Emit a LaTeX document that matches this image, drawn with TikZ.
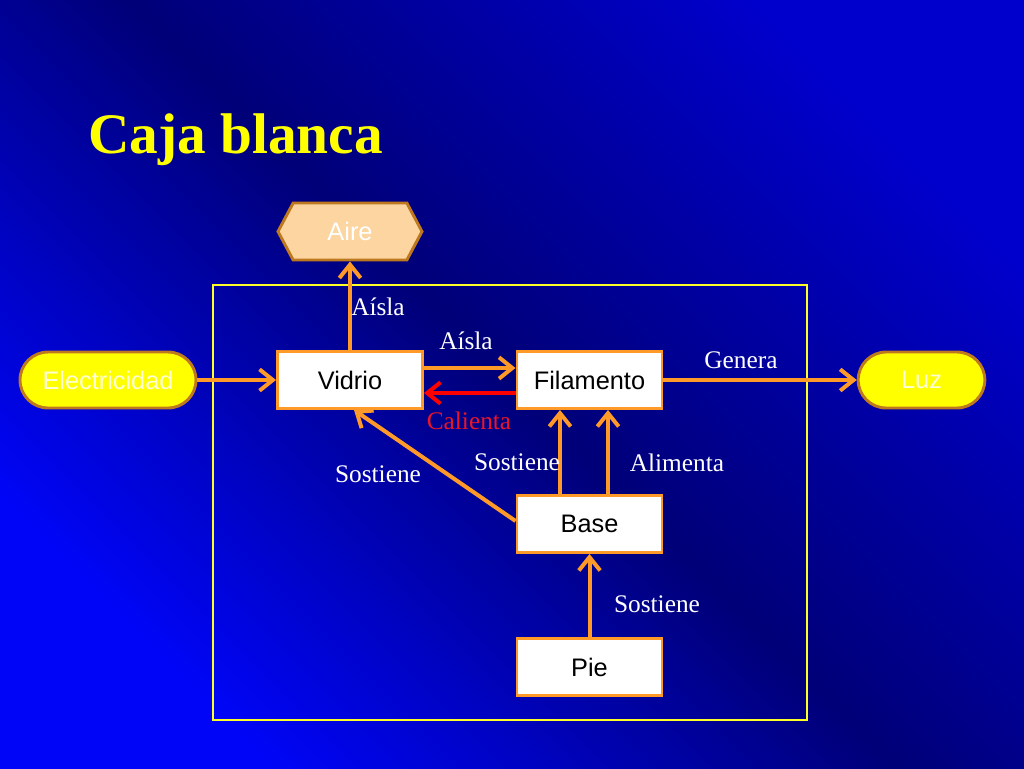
\documentclass[tikz,border=0pt]{standalone}
\usepackage{fontspec}
\setmainfont{Liberation Serif}
\newfontfamily\arialf{Liberation Sans}
\usetikzlibrary{arrows.meta,shapes.misc,shapes.symbols,shadings}
\definecolor{bgdark}{RGB}{0,0,120}
\definecolor{bgbright}{RGB}{0,5,248}
\definecolor{bgtr}{RGB}{0,0,205}
\definecolor{orng}{RGB}{255,153,40}
\definecolor{brownb}{RGB}{190,120,30}
\definecolor{peach}{RGB}{252,213,160}
\definecolor{ylw}{RGB}{255,255,0}
\definecolor{paleylw}{RGB}{255,255,215}
\definecolor{frameylw}{RGB}{255,255,40}
\definecolor{redarr}{RGB}{255,0,0}
\definecolor{redtxt}{RGB}{235,20,40}
\tikzset{
  box/.style={draw=orng, line width=2.2pt, fill=white, minimum width=108.75pt, minimum height=42.75pt, inner sep=0pt, font=\arialf\fontsize{19}{19}\selectfont, text=black},
  pill/.style={rounded rectangle, draw=brownb, line width=2.2pt, fill=ylw, minimum height=42pt, inner sep=0pt, font=\arialf\fontsize{19}{19}\selectfont, text=paleylw},
  hexa/.style={signal, signal to=east and west, signal pointer angle=124, draw=brownb, line width=2.2pt, fill=peach, minimum width=108pt, minimum height=42.75pt, inner sep=0pt, font=\arialf\fontsize{19}{19}\selectfont, text=white},
  arr/.style={draw=orng, line width=3pt, -{Straight Barb[length=10pt,width=16pt,line width=3pt]}},
  redarrow/.style={draw=redarr, line width=3pt, -{Straight Barb[length=10pt,width=16pt,line width=3pt]}},
  lbl/.style={anchor=base, inner sep=0pt, text=white, font=\fontsize{19}{19}\selectfont},
}
\begin{document}
\begin{tikzpicture}[x=0.75pt,y=-0.75pt]
\useasboundingbox (0,0) rectangle (1024,768);
\shade[left color=bgtr, right color=bgbright, middle color=bgdark, shading angle=-45] (0,0) rectangle (1024,768);
% title
\node[anchor=base west, inner sep=0pt, text=ylw, font=\bfseries\fontsize{43}{43}\selectfont] (title) at (88,153) {Caja blanca};
% frame
\draw[frameylw, line width=2.2pt] (213,285) rectangle (807,720);
% nodes
\node[box] (vidrio) at (350,380) {Vidrio};
\node[box] (fil) at (589.5,380) {Filamento};
\node[box] (base) at (589.5,524) {Base};
\node[box] (pie) at (589.5,667) {Pie};
\node[hexa] (aire) at (350,231.5) {Aire};
\node[pill, minimum width=132pt] (elec) at (108,380) {Electricidad};
\node[pill, minimum width=95pt] (luz) at (921.5,380) {Luz};
% connectors
\draw[arr] (elec.east) -- (vidrio.west);
\draw[arr] (vidrio.north) -- (aire.south);
\draw[arr] (vidrio.east |- 0,368) -- (fil.west |- 0,368);
\draw[redarrow] (fil.west |- 0,393) -- (vidrio.east |- 0,393);
\draw[arr] (fil.east) -- (luz.west);
\draw[arr] (base.west |- 0,521) -- ([xshift=3pt]vidrio.south);
\draw[arr] (base.north -| 560,0) -- (fil.south -| 560,0);
\draw[arr] (base.north -| 608,0) -- (fil.south -| 608,0);
\draw[arr] (pie.north) -- (base.south);
% labels
\node[lbl] (l1) at (378,315) {Aísla};
\node[lbl] (l2) at (466,349) {Aísla};
\node[lbl, text=redtxt] (l3) at (469,429) {Calienta};
\node[lbl] (l4) at (741,368) {Genera};
\node[lbl] (l5) at (378,482) {Sostiene};
\node[lbl] (l6) at (517,470) {Sostiene};
\node[lbl] (l7) at (677,471) {Alimenta};
\node[lbl] (l8) at (657,612) {Sostiene};
\end{tikzpicture}
\end{document}
